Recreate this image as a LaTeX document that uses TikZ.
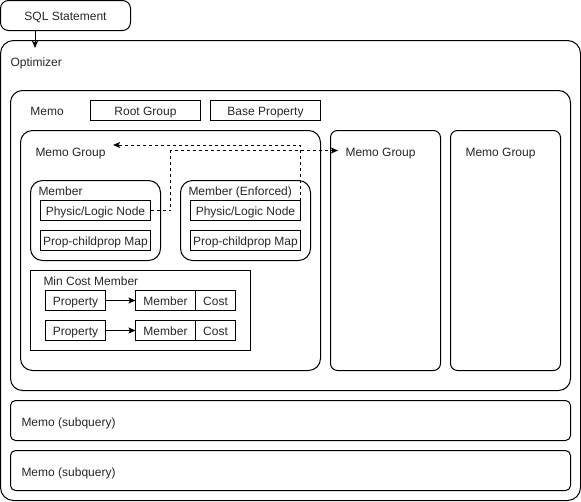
\documentclass[tikz,border=0pt]{standalone}
\usepackage{fontspec}
\setmainfont{Liberation Sans}
\usepackage{tikz}
\usetikzlibrary{arrows.meta, positioning}

\begin{document}
\begin{tikzpicture}[x=1pt, y=-1pt, >={Stealth[length=7pt, width=6pt, inset=1.5pt]},
                    line width=1pt, font=\fontsize{12}{14}\selectfont]
\tikzstyle{box}=[draw, rectangle, inner sep=0pt, outer sep=0pt, text=black!85,
                 anchor=north west, text height=10pt, text depth=0pt]
\tikzstyle{rbox}=[box, rounded corners=10pt]
\tikzstyle{lbl}=[anchor=west, inner sep=0pt, text=black!85, text height=10pt, text depth=0pt]
\tikzstyle{link}=[->, dash pattern=on 3pt off 3pt]
  \useasboundingbox (0,0) rectangle (581,501);
  \node[rbox, rounded corners=8pt, minimum width=130pt, minimum height=30pt] (sql) at (0.5,0.5) {SQL Statement};
  \node[rbox, rounded corners=13pt, minimum width=580pt, minimum height=460pt] (opt) at (0.5,40.5) {};
  \node[lbl] (optlbl) at (10,61.5) {Optimizer};
  %
  \node[rbox, rounded corners=12pt, minimum width=560pt, minimum height=300pt] (memo) at (10.5,90.5) {};
  \node[lbl] (memolbl) at (30,110.5) {Memo};
  \node[box, minimum width=110pt, minimum height=20pt] (root) at (90.5,100.5) {Root Group};
  \node[box, minimum width=110pt, minimum height=20pt, right=10pt of root] (base) {Base Property};
  %
  \node[rbox, rounded corners=12pt, minimum width=300pt, minimum height=240pt] (mg1) at (20.5,130.5) {};
  \node[rbox, rounded corners=7pt, minimum width=110pt, minimum height=240pt, right=10pt of mg1] (mg2) {};
  \node[rbox, rounded corners=7pt, minimum width=110pt, minimum height=240pt, right=10pt of mg2] (mg3) {};
  \node[lbl] (mg1lbl) at (35,151) {Memo Group};
  \node[lbl] (mg2lbl) at (345,151) {Memo Group};
  \node[lbl] (mg3lbl) at (465,151) {Memo Group};
  %
  \node[rbox, rounded corners=12pt, minimum width=130pt, minimum height=80pt] (mem1) at (30.5,180.5) {};
  \node[rbox, rounded corners=12pt, minimum width=130pt, minimum height=80pt, right=20pt of mem1] (mem2) {};
  \node[lbl] (mem1lbl) at (38,190.5) {Member};
  \node[lbl] (mem2lbl) at (188,190.5) {Member (Enforced)};
  \node[box, minimum width=110pt, minimum height=20pt] (pl1) at (40.5,200.5) {Physic/Logic Node};
  \node[box, minimum width=110pt, minimum height=20pt, below=10pt of pl1] (pm1) {Prop-childprop Map};
  \node[box, minimum width=110pt, minimum height=20pt] (pl2) at (190.5,200.5) {Physic/Logic Node};
  \node[box, minimum width=110pt, minimum height=20pt, below=10pt of pl2] (pm2) {Prop-childprop Map};
  %
  \node[box, minimum width=220pt, minimum height=80pt] (mcm) at (30.5,270.5) {};
  \node[lbl] (mcmlbl) at (43,280.5) {Min Cost Member};
  \node[box, minimum width=60pt, minimum height=20pt] (prop1) at (45.5,290.5) {Property};
  \node[box, minimum width=60pt, minimum height=20pt, right=30pt of prop1] (m1) {Member};
  \node[box, minimum width=40pt, minimum height=20pt, right=0pt of m1] (c1) {Cost};
  \node[box, minimum width=60pt, minimum height=20pt, below=10pt of prop1] (prop2) {Property};
  \node[box, minimum width=60pt, minimum height=20pt, right=30pt of prop2] (m2) {Member};
  \node[box, minimum width=40pt, minimum height=20pt, right=0pt of m2] (c2) {Cost};
  %
  \node[rbox, rounded corners=5pt, minimum width=560pt, minimum height=40pt] (sub1) at (10.5,400.5) {};
  \node[rbox, rounded corners=5pt, minimum width=560pt, minimum height=40pt, below=10pt of sub1] (sub2) {};
  \node[lbl] (sub1lbl) at (21,421) {Memo (subquery)};
  \node[lbl] (sub2lbl) at (21,471) {Memo (subquery)};
  %
  \coordinate (optin) at (35,48);
  \draw[->] (sql.south -| optin) -- (optin);
  \draw[->] (prop1) -- (m1);
  \draw[->] (prop2) -- (m2);
  \draw[link, shorten >=7pt] (pl1.east) -- ++(20,0) |- ([yshift=0.5pt]mg2lbl.west);
  \draw[link, shorten >=7pt] (pl2.north east) |- ([yshift=6pt]mg1lbl.east);
\end{tikzpicture}
\end{document}
